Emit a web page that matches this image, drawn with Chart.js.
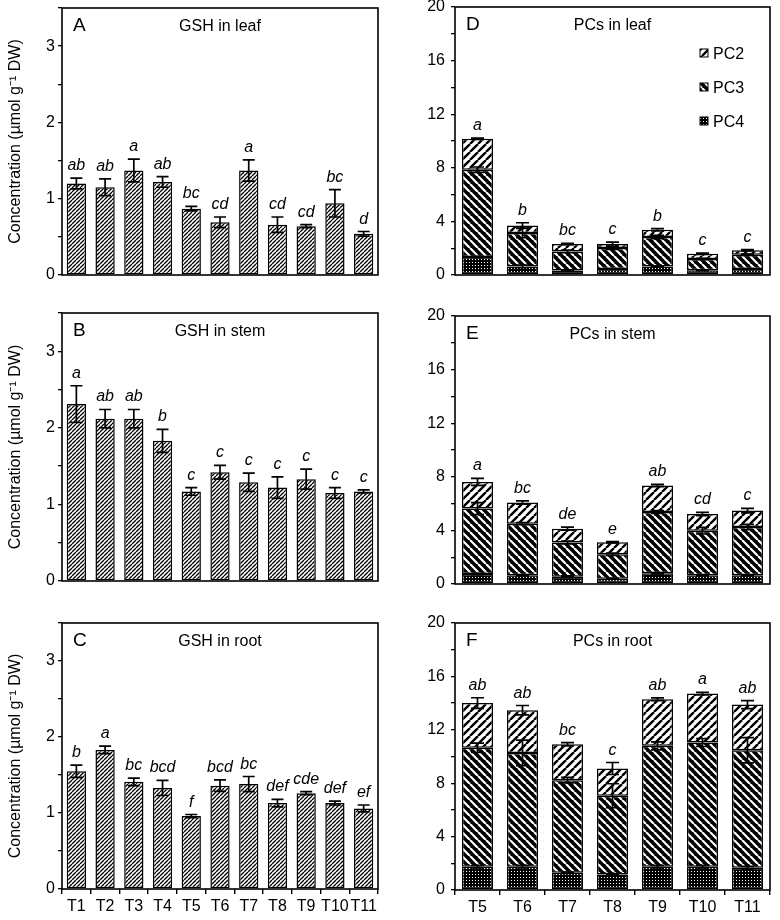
<!DOCTYPE html>
<html>
<head>
<meta charset="utf-8">
<title>GSH and PCs</title>
<script src="https://cdn.jsdelivr.net/npm/chart.js@4.4.0/dist/chart.umd.min.js"></script>
<style>
  html, body { margin: 0; padding: 0; background: #fff; }
  #wrap { position: relative; width: 780px; height: 920px; }
  #wrap canvas { position: absolute; }
</style>
</head>
<body>
<div id="wrap">
  <canvas id="cA" width="385" height="285" style="left:0;top:0"></canvas>
  <canvas id="cB" width="385" height="290" style="left:0;top:300px"></canvas>
  <canvas id="cC" width="385" height="320" style="left:0;top:600px"></canvas>
  <canvas id="cD" width="390" height="285" style="left:390px;top:0"></canvas>
  <canvas id="cE" width="390" height="295" style="left:390px;top:300px"></canvas>
  <canvas id="cF" width="390" height="320" style="left:390px;top:600px"></canvas>
</div>
<script>
// categories and tick labels
const gshCategories = ['T1', 'T2', 'T3', 'T4', 'T5', 'T6', 'T7', 'T8', 'T9', 'T10', 'T11'];
const pcCategories = ['T5', 'T6', 'T7', 'T8', 'T9', 'T10', 'T11'];
const gshTickLabels = [0, 1, 2, 3];
const pcTickLabels = [0, 4, 8, 12, 16, 20];

// GSH, µmol g-1 DW
const gshLeaf = [1.20, 1.15, 1.37, 1.22, 0.87, 0.69, 1.37, 0.66, 0.64, 0.94, 0.54];
const gshLeafErr = [0.07, 0.11, 0.15, 0.07, 0.03, 0.07, 0.14, 0.10, 0.02, 0.18, 0.03];
const gshLeafSig = ['ab', 'ab', 'a', 'ab', 'bc', 'cd', 'a', 'cd', 'cd', 'bc', 'd'];

const gshStem = [2.31, 2.12, 2.12, 1.83, 1.17, 1.42, 1.29, 1.22, 1.33, 1.15, 1.17];
const gshStemErr = [0.24, 0.12, 0.12, 0.15, 0.05, 0.09, 0.12, 0.14, 0.13, 0.07, 0.02];
const gshStemSig = ['a', 'ab', 'ab', 'b', 'c', 'c', 'c', 'c', 'c', 'c', 'c'];

const gshRoot = [1.55, 1.83, 1.41, 1.33, 0.96, 1.36, 1.38, 1.13, 1.26, 1.13, 1.06];
const gshRootErr = [0.08, 0.05, 0.05, 0.10, 0.02, 0.075, 0.10, 0.05, 0.02, 0.025, 0.045];
const gshRootSig = ['b', 'a', 'bc', 'bcd', 'f', 'bcd', 'bc', 'def', 'cde', 'def', 'ef'];

// PCs, stacked parts PC4 / PC3 / PC2
const leafPC4 = [1.35, 0.64, 0.34, 0.45, 0.64, 0.35, 0.45];
const leafPC3 = [6.51, 2.49, 1.42, 1.56, 2.20, 0.84, 1.06];
const leafPC2 = [2.31, 0.57, 0.55, 0.30, 0.54, 0.40, 0.33];
const leafPC4Err = [0.05, 0.10, 0.03, 0.03, 0.05, 0.03, 0.03];
const leafPC3Err = [0.20, 0.35, 0.10, 0.10, 0.12, 0.05, 0.05];
const leafPC2Err = [0.05, 0.20, 0.05, 0.15, 0.08, 0.05, 0.05];
const leafSig = ['a', 'b', 'bc', 'c', 'b', 'c', 'c'];

const stemPC4 = [0.75, 0.65, 0.55, 0.40, 0.80, 0.65, 0.65];
const stemPC3 = [4.88, 3.85, 2.55, 1.82, 4.57, 3.33, 3.60];
const stemPC2 = [1.99, 1.58, 1.03, 0.90, 1.98, 1.24, 1.23];
const stemPC4Err = [0.05, 0.05, 0.05, 0.03, 0.05, 0.05, 0.05];
const stemPC3Err = [0.45, 0.08, 0.10, 0.08, 0.10, 0.25, 0.20];
const stemPC2Err = [0.26, 0.12, 0.12, 0.05, 0.08, 0.12, 0.17];
const stemSig = ['a', 'bc', 'de', 'e', 'ab', 'cd', 'c'];

const rootPC4 = [1.75, 1.75, 1.30, 1.17, 1.75, 1.75, 1.67];
const rootPC3 = [8.90, 8.52, 6.93, 5.89, 9.05, 9.30, 8.80];
const rootPC2 = [3.35, 3.20, 2.69, 2.04, 3.49, 3.66, 3.42];
const rootPC4Err = [0.10, 0.10, 0.05, 0.05, 0.10, 0.10, 0.10];
const rootPC3Err = [0.35, 0.95, 0.20, 0.90, 0.30, 0.30, 0.95];
const rootPC2Err = [0.40, 0.35, 0.12, 0.45, 0.10, 0.10, 0.30];
const rootSig = ['ab', 'ab', 'bc', 'c', 'ab', 'a', 'ab'];

const FONT = '"Liberation Sans", Arial, sans-serif';

// fill patterns
function makePattern(kind) {
  const c = document.createElement('canvas');
  const ctx = c.getContext('2d');
  if (kind === 'dots') {
    c.width = 3; c.height = 3;
    ctx.fillStyle = '#000'; ctx.fillRect(0, 0, 3, 3);
    ctx.fillStyle = '#fff'; ctx.fillRect(1, 1, 1, 1);
    return ctx.createPattern(c, 'repeat');
  }
  const p = kind === 'fine' ? 4 : 8;
  c.width = p; c.height = p;
  const dark = kind === 'back';
  ctx.fillStyle = dark ? '#000' : '#fff';
  ctx.fillRect(0, 0, p, p);
  ctx.strokeStyle = dark ? '#fff' : '#000';
  ctx.lineWidth = kind === 'fine' ? 1.3 : (dark ? 2.2 : 2.4);
  ctx.beginPath();
  for (let k = -1; k <= 1; k++) {
    if (dark) { ctx.moveTo(k * p, 0); ctx.lineTo(k * p + p, p); }
    else { ctx.moveTo(k * p, p); ctx.lineTo(k * p + p, 0); }
  }
  ctx.stroke();
  return ctx.createPattern(c, 'repeat');
}
const fineHatch = makePattern('fine');
const pc2Fill = makePattern('fwd');
const pc3Fill = makePattern('back');
const pc4Fill = makePattern('dots');

// error bars, frame, letters, titles, legend
const decor = {
  id: 'decor',
  afterDatasetsDraw(chart, args, opts) {
    const ctx = chart.ctx, y = chart.scales.y, area = chart.chartArea;
    const px = v => y.getPixelForValue(0) - y.getPixelForValue(v);
    ctx.save();
    ctx.strokeStyle = '#000';
    ctx.lineWidth = 1.7;
    chart.data.datasets.forEach((ds, i) => {
      chart.getDatasetMeta(i).data.forEach((bar, j) => {
        const e = px(ds.err[j]);
        ctx.beginPath();
        ctx.moveTo(bar.x, bar.y - e); ctx.lineTo(bar.x, bar.y + e);
        ctx.moveTo(bar.x - opts.cap, bar.y - e); ctx.lineTo(bar.x + opts.cap, bar.y - e);
        ctx.moveTo(bar.x - opts.cap, bar.y + e); ctx.lineTo(bar.x + opts.cap, bar.y + e);
        ctx.stroke();
      });
    });
    ctx.lineWidth = 1.6;
    ctx.strokeRect(area.left, area.top, area.width, area.height);

    ctx.fillStyle = '#000';
    ctx.textBaseline = 'alphabetic';
    const topI = chart.data.datasets.length - 1;
    const topDs = chart.data.datasets[topI];
    ctx.font = 'italic 16px ' + FONT;
    ctx.textAlign = 'center';
    chart.getDatasetMeta(topI).data.forEach((bar, j) => {
      ctx.fillText(opts.sig[j], bar.x, bar.y - px(topDs.err[j]) - 8);
    });

    ctx.textAlign = 'left';
    ctx.font = '19px ' + FONT;
    ctx.fillText(opts.letter, area.left + 11, area.top + 23);
    ctx.textAlign = 'center';
    ctx.font = '16px ' + FONT;
    ctx.fillText(opts.title, (area.left + area.right) / 2, area.top + 22.5);

    if (opts.legend) {
      ctx.textAlign = 'left';
      chart.data.datasets.slice().reverse().forEach((ds, k) => {
        const base = area.top + 52 + k * 34;
        ctx.fillStyle = ds.backgroundColor;
        ctx.fillRect(area.right - 70, base - 10, 8, 8);
        ctx.strokeStyle = '#000';
        ctx.lineWidth = 1;
        ctx.strokeRect(area.right - 70, base - 10, 8, 8);
        ctx.fillStyle = '#000';
        ctx.fillText(ds.label, area.right - 57, base);
      });
    }
    ctx.restore();
  }
};

function makeChart(id, cfg) {
  const isPC = cfg.datasets.length > 1;
  return new Chart(document.getElementById(id), {
    type: 'bar',
    data: { labels: cfg.labels, datasets: cfg.datasets },
    options: {
      responsive: false,
      devicePixelRatio: 1,
      animation: false,
      layout: { padding: { top: cfg.padTop, right: cfg.padRight, left: 0, bottom: 0 } },
      plugins: {
        legend: { display: false },
        tooltip: { enabled: false },
        decor: { sig: cfg.sig, letter: cfg.letter, title: cfg.title, legend: cfg.legend, cap: isPC ? 6.5 : 6 }
      },
      scales: {
        x: {
          stacked: isPC,
          offset: true,
          border: { display: false },
          grid: { display: cfg.showX, offset: true, drawOnChartArea: false, drawTicks: true, tickLength: 5, color: '#000', lineWidth: 1.4 },
          ticks: { display: cfg.showX, color: '#000', font: { family: FONT, size: 16 }, padding: 3, maxRotation: 0, autoSkip: false },
          afterFit: s => { s.height = cfg.xHeight; s.paddingLeft = 0; s.paddingRight = 0; }
        },
        y: {
          stacked: isPC,
          min: 0,
          max: cfg.max,
          border: { display: false },
          grid: { drawOnChartArea: false, drawTicks: true, tickLength: 4, color: '#000', lineWidth: 1.3 },
          ticks: {
            stepSize: cfg.step,
            color: '#000',
            padding: isPC ? 6 : 3,
            font: { family: FONT, size: 16 },
            callback: v => cfg.tickLabels.includes(v) ? String(v) : ''
          },
          title: {
            display: !isPC,
            text: 'Concentration (µmol g⁻¹ DW)',
            color: '#000',
            font: { family: FONT, size: 16 },
            padding: { top: 6, bottom: 0 }
          },
          afterFit: s => { s.width = cfg.yWidth; s.paddingTop = 0; s.paddingBottom = 0; }
        }
      }
    },
    plugins: [decor]
  });
}

function gshSet(values, errs) {
  return [{
    label: 'GSH', data: values, err: errs,
    backgroundColor: fineHatch, borderColor: '#000', borderWidth: 1.5, borderSkipped: false,
    barPercentage: 0.67, categoryPercentage: 1.0
  }];
}
function pcSets(p4, p3, p2, e4, e3, e2) {
  const common = { borderColor: '#000', borderWidth: 1.5, borderSkipped: false, barPercentage: 0.69, categoryPercentage: 1.0 };
  return [
    Object.assign({ label: 'PC4', data: p4, err: e4, backgroundColor: pc4Fill }, common),
    Object.assign({ label: 'PC3', data: p3, err: e3, backgroundColor: pc3Fill }, common),
    Object.assign({ label: 'PC2', data: p2, err: e2, backgroundColor: pc2Fill }, common)
  ];
}

const gshBase = { labels: gshCategories, max: 3.5, step: 0.5, tickLabels: gshTickLabels, yWidth: 62, padRight: 7, legend: false };
const pcBase = { labels: pcCategories, max: 20, step: 2, tickLabels: pcTickLabels, yWidth: 65, padRight: 10 };

makeChart('cA', Object.assign({}, gshBase, { datasets: gshSet(gshLeaf, gshLeafErr), sig: gshLeafSig, letter: 'A', title: 'GSH in leaf', padTop: 8, xHeight: 10, showX: false }));
makeChart('cB', Object.assign({}, gshBase, { datasets: gshSet(gshStem, gshStemErr), sig: gshStemSig, letter: 'B', title: 'GSH in stem', padTop: 13, xHeight: 9, showX: false }));
makeChart('cC', Object.assign({}, gshBase, { datasets: gshSet(gshRoot, gshRootErr), sig: gshRootSig, letter: 'C', title: 'GSH in root', padTop: 23, xHeight: 31, showX: true }));

makeChart('cD', Object.assign({}, pcBase, { datasets: pcSets(leafPC4, leafPC3, leafPC2, leafPC4Err, leafPC3Err, leafPC2Err), sig: leafSig, letter: 'D', title: 'PCs in leaf', padTop: 7, xHeight: 10, showX: false, legend: true }));
makeChart('cE', Object.assign({}, pcBase, { datasets: pcSets(stemPC4, stemPC3, stemPC2, stemPC4Err, stemPC3Err, stemPC2Err), sig: stemSig, letter: 'E', title: 'PCs in stem', padTop: 16, xHeight: 11, showX: false, legend: false }));
makeChart('cF', Object.assign({}, pcBase, { datasets: pcSets(rootPC4, rootPC3, rootPC2, rootPC4Err, rootPC3Err, rootPC2Err), sig: rootSig, letter: 'F', title: 'PCs in root', padTop: 23, xHeight: 30, showX: true, legend: false }));
</script>
</body>
</html>
